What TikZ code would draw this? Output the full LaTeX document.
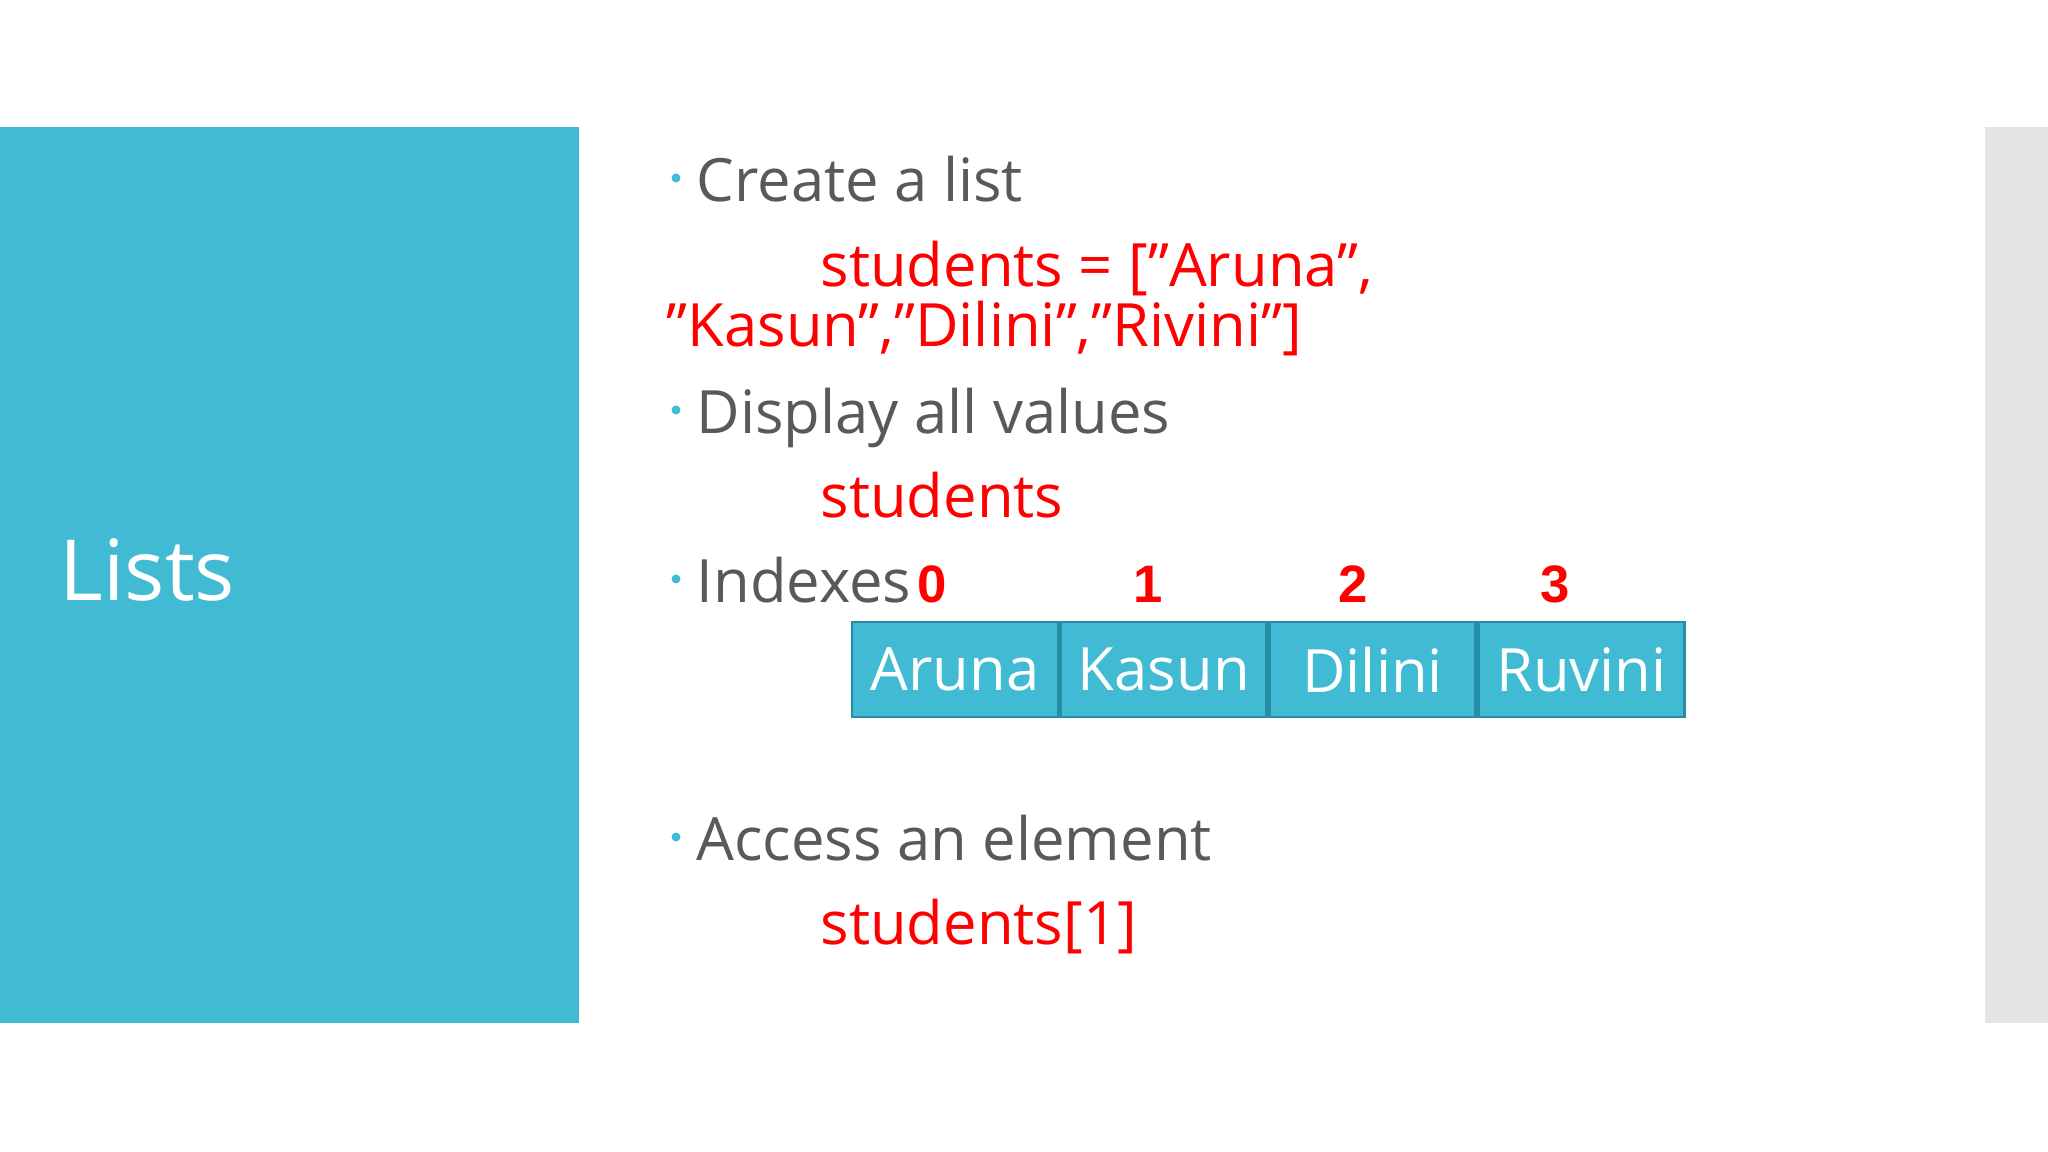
\documentclass[tikz,border=0pt]{standalone}
\usepackage{fontspec}
\setmainfont{Open Sans}
\newfontfamily\digitfont{Liberation Sans}
\usetikzlibrary{positioning}
\definecolor{panelblue}{RGB}{65,187,212}
\definecolor{boxline}{RGB}{40,140,165}
\definecolor{textgray}{RGB}{89,89,89}
\definecolor{stripgray}{RGB}{228,228,228}
\tikzset{
  bullettext/.style={anchor=base west, inner sep=0pt, text=textgray, font=\fontsize{17}{20}\selectfont},
  codetext/.style={anchor=base west, inner sep=0pt, text=red, font=\fontsize{17}{20}\selectfont},
  dot/.style={circle, fill=panelblue, inner sep=0pt, minimum size=0.09cm},
  indexnum/.style={anchor=base, inner sep=0pt, text=red, font=\digitfont\bfseries\fontsize{15}{18}\selectfont},
  cell/.style={draw=boxline, line width=0.8pt, fill=panelblue, text=white, minimum width=2.06cm, minimum height=0.95cm, inner sep=0pt, font=\fontsize{17}{20}\selectfont}
}
\begin{document}
\begin{tikzpicture}
\useasboundingbox (0,0) rectangle (20.48,11.52);
\fill[white] (0,0) rectangle (20.48,11.52);

% side panels
\fill[panelblue] (0,1.29) rectangle (5.79,10.25);
\fill[stripgray] (19.85,1.29) rectangle (20.48,10.25);
\node[anchor=base west, inner sep=0pt, text=white, font=\fontsize{24}{28}\selectfont] (title) at (0.59,5.51) {Lists};

% bullets
\node[dot] (d1) at (6.76,9.74) {};
\node[bullettext] (create) at (6.96,9.50) {Create a list};
\node[codetext] (code1) at (8.20,8.65) {students = ["Aruna",};
\node[codetext] (code2) at (6.66,8.05) {"Kasun","Dilini","Rivini"]};

\node[dot] (d2) at (6.76,7.42) {};
\node[bullettext] (display) at (6.96,7.18) {Display all values};
\node[codetext] (code3) at (8.20,6.34) {students};

\node[dot] (d3) at (6.76,5.73) {};
\node[bullettext] (indexes) at (6.96,5.49) {Indexes};

% list cells
\node[cell] (c0) at (9.55,4.825) {Aruna};
\node[cell, right=0pt of c0] (c1) {Kasun};
\node[cell, right=0pt of c1] (c2) {Dilini};
\node[cell, right=0pt of c2] (c3) {Ruvini};

\node[indexnum] (i0) at (9.32,5.49) {0};
\node[indexnum] (i1) at (11.48,5.49) {1};
\node[indexnum] (i2) at (13.53,5.49) {2};
\node[indexnum] (i3) at (15.55,5.49) {3};

\node[dot] (d4) at (6.76,3.15) {};
\node[bullettext] (access) at (6.96,2.91) {Access an element};
\node[codetext] (code4) at (8.20,2.07) {students[1]};
\end{tikzpicture}
\end{document}
